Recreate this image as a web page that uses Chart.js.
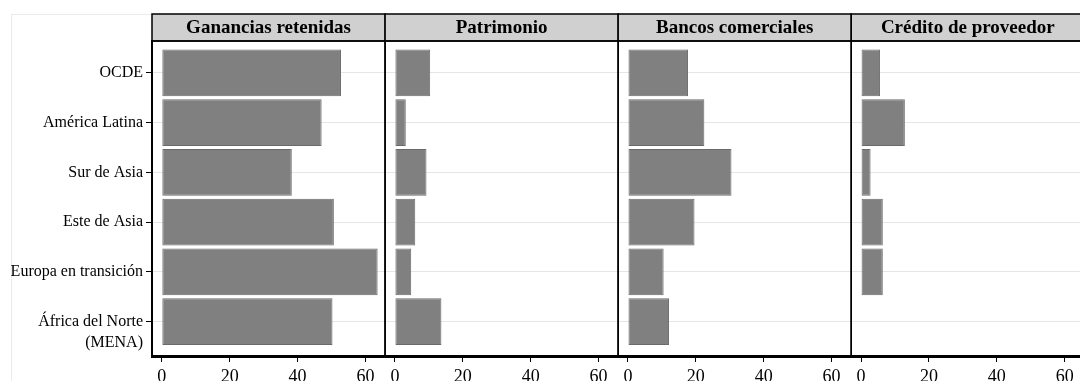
<!DOCTYPE html>
<html>
<head>
<meta charset="utf-8">
<script src="https://cdn.jsdelivr.net/npm/chart.js@4.4.1/dist/chart.umd.min.js"></script>
<style>
html, body { margin: 0; padding: 0; background: #fff; overflow: hidden; }
</style>
</head>
<body>
<canvas id="fuentesChart" width="1086" height="381"></canvas>
<script>
// regiones (la última en dos líneas, con una línea vacía arriba para que el tick quede en la primera)
const regions = ['OCDE', 'América Latina', 'Sur de Asia', 'Este de Asia', 'Europa en transición', ['', 'África del Norte', '(MENA)']];
const panels = ['Ganancias retenidas', 'Patrimonio', 'Bancos comerciales', 'Crédito de proveedor'];

const gananciasRetenidas = [52.8, 47.1, 38.3, 50.7, 63.6, 50.3];
const patrimonio = [10.4, 3.2, 9.3, 6.0, 4.8, 13.7];
const bancosComerciales = [17.7, 22.5, 30.5, 19.6, 10.5, 12.1];
const creditoProveedor = [5.6, 12.9, 2.8, 6.4, 6.4, 0];
const xTicks = [0, 20, 40, 60];

const series = [gananciasRetenidas, patrimonio, bancosComerciales, creditoProveedor];
const serif = '"Liberation Serif", "Times New Roman", serif';

const panelFrames = {
    id: 'panelFrames',
    beforeDraw(chart) {
        const ctx = chart.ctx;
        ctx.save();
        ctx.strokeStyle = '#ebebeb';
        ctx.lineWidth = 1;
        ctx.strokeRect(11.5, 14.5, chart.width, chart.height);
        ctx.restore();
    },
    afterDraw(chart) {
        const ctx = chart.ctx;
        const area = chart.chartArea;
        const top = 14;
        ctx.save();
        panels.forEach((title, k) => {
            const s = chart.scales['x' + (k + 1)];
            ctx.fillStyle = '#d0d0d0';
            ctx.fillRect(s.left, top, s.width, area.top - top);
            ctx.strokeStyle = '#000';
            ctx.lineWidth = 1.5;
            ctx.strokeRect(s.left, top, s.width, area.top - top);
            ctx.strokeRect(s.left, area.top, s.width, area.bottom - area.top);
            ctx.fillStyle = '#000';
            ctx.font = 'bold 19px ' + serif;
            ctx.textAlign = 'center';
            ctx.textBaseline = 'middle';
            ctx.fillText(title, (s.left + s.right) / 2, (top + area.top) / 2 + 1);
        });
        ctx.restore();
    }
};

const scales = {
    y: {
        type: 'linear',
        position: 'left',
        reverse: true,
        offset: false,
        min: -0.64,
        max: 5.69,
        afterBuildTicks: scale => { scale.ticks = regions.map((r, i) => ({ value: i })); },
        afterFit: scale => { scale.width = 152; },
        ticks: {
            color: '#000',
            padding: 3,
            autoSkip: false,
            font: { family: serif, size: 16, lineHeight: 1.35 },
            callback: value => regions[value]
        },
        grid: { offset: false, color: '#e6e6e6', lineWidth: 1, tickColor: '#000', tickLength: 6 },
        border: { color: '#000', width: 2 }
    }
};

panels.forEach((p, k) => {
    scales['x' + (k + 1)] = {
        type: 'linear',
        position: 'bottom',
        stack: 'paneles',
        stackWeight: 1,
        min: -2.9,
        max: 65.8,
        afterBuildTicks: scale => { scale.ticks = xTicks.map(v => ({ value: v })); },
        afterFit: scale => { scale.height = 25; },
        ticks: { color: '#000', padding: 4, maxRotation: 0, autoSkip: false, font: { family: serif, size: 18 } },
        grid: { drawOnChartArea: false, tickColor: '#000', tickLength: 6 },
        border: { color: '#000', width: 3 }
    };
});

new Chart(document.getElementById('fuentesChart'), {
    type: 'bar',
    data: {
        datasets: series.map((values, k) => ({
            label: panels[k],
            data: values.map((v, i) => ({ x: v, y: i })),
            xAxisID: 'x' + (k + 1),
            yAxisID: 'y',
            backgroundColor: '#808080',
            borderColor: '#6a6a6a',
            borderWidth: 1,
            borderSkipped: false,
            grouped: false,
            categoryPercentage: 1,
            barPercentage: 0.94
        }))
    },
    options: {
        indexAxis: 'y',
        responsive: false,
        animation: false,
        layout: { padding: { top: 41, left: 0, right: 0, bottom: 0 } },
        plugins: {
            legend: { display: false },
            tooltip: { enabled: false }
        },
        scales: scales
    },
    plugins: [panelFrames]
});
</script>
</body>
</html>
